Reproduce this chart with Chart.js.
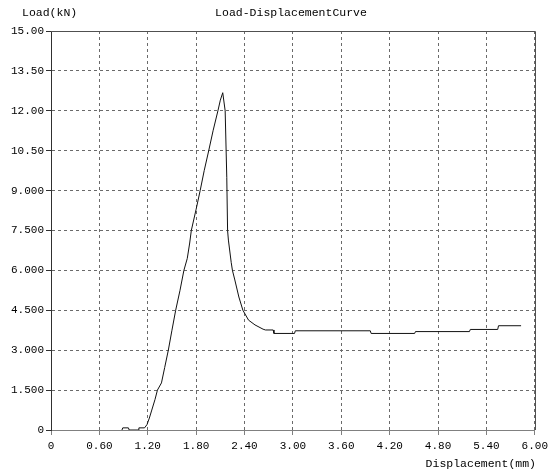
<!DOCTYPE html>
<html>
<head>
<meta charset="utf-8">
<script src="https://cdn.jsdelivr.net/npm/chart.js@4.4.0/dist/chart.umd.min.js"></script>
<style>
html,body{margin:0;padding:0;background:#fff;}
</style>
</head>
<body>
<canvas id="myChart" width="552" height="473"></canvas>
<script>
const displacement = [0.88,0.89,0.96,0.97,1.08,1.09,1.16,1.19,1.22,1.25,1.29,1.32,1.37,1.41,1.455,1.50,1.546,1.60,1.648,1.69,1.72,1.74,1.80,1.85,1.90,1.956,2.01,2.07,2.10,2.13,2.16,2.18,2.19,2.20,2.235,2.25,2.28,2.33,2.38,2.45,2.53,2.63,2.66,2.755,2.765,3.02,3.03,3.96,3.97,4.51,4.52,5.19,5.20,5.54,5.55,5.83];
const load = [0.00,0.08,0.08,0.00,0.00,0.08,0.08,0.20,0.45,0.75,1.15,1.50,1.77,2.35,3.00,3.75,4.50,5.25,6.00,6.45,7.03,7.50,8.30,9.00,9.75,10.50,11.25,12.00,12.40,12.68,12.00,9.50,7.50,7.14,6.30,6.00,5.64,5.00,4.50,4.13,3.95,3.79,3.76,3.76,3.63,3.63,3.73,3.73,3.63,3.63,3.70,3.70,3.78,3.78,3.92,3.92];

// ticks
const xTickValues = [0,0.6,1.2,1.8,2.4,3.0,3.6,4.2,4.8,5.4,6.0];
const xTickLabels = ['0','0.60','1.20','1.80','2.40','3.00','3.60','4.20','4.80','5.40','6.00'];
const yTickValues = [0,1.5,3,4.5,6,7.5,9,10.5,12,13.5,15];
const yTickLabels = ['0','1.500','3.000','4.500','6.000','7.500','9.000','10.50','12.00','13.50','15.00'];

const chartTitle = 'Load-DisplacementCurve';
const yTitle = 'Load(kN)';
const xTitle = 'Displacement(mm)';

const fontFam = '"Liberation Mono", "DejaVu Sans Mono", monospace';

// titles + frame top/right
const textesPlugin = {
  id: 'textes',
  afterDraw(chart) {
    const ctx = chart.ctx;
    const a = chart.chartArea;
    ctx.save();
    ctx.strokeStyle = '#505050';
    ctx.lineWidth = 1;
    ctx.beginPath();
    ctx.moveTo(a.left, Math.round(a.top) + 0.5);
    ctx.lineTo(Math.round(a.right) + 0.5, Math.round(a.top) + 0.5);
    ctx.lineTo(Math.round(a.right) + 0.5, a.bottom);
    ctx.stroke();

    ctx.fillStyle = '#000';
    ctx.font = '11.5px ' + fontFam;
    ctx.textBaseline = 'middle';
    ctx.textAlign = 'left';
    ctx.fillText(yTitle, 22, 13);
    ctx.textAlign = 'center';
    ctx.fillText(chartTitle, 291, 13);
    ctx.textAlign = 'right';
    ctx.fillText(xTitle, 536, 464);
    ctx.restore();
  }
};

const data = {
  datasets: [{
    label: 'Load',
    data: displacement.map((d, i) => ({x: d, y: load[i]})),
    showLine: true,
    borderColor: '#111',
    borderWidth: 1,
    pointRadius: 0,
    tension: 0,
    fill: false
  }]
};

const config = {
  type: 'scatter',
  data: data,
  options: {
    responsive: false,
    animation: false,
    layout: {padding: {top: 31, right: 13, left: 0, bottom: 0}},
    plugins: {
      legend: {display: false},
      tooltip: {enabled: false},
      title: {display: false}
    },
    scales: {
      x: {
        type: 'linear',
        min: 0,
        max: 6,
        afterBuildTicks: scale => { scale.ticks = xTickValues.map(v => ({value: v})); },
        afterFit: scale => { scale.height = 43; },
        ticks: {
          autoSkip: false,
          maxRotation: 0,
          padding: 4,
          color: '#000',
          font: {family: fontFam, size: 11},
          callback: (v, i) => xTickLabels[i]
        },
        grid: {color: '#6a6a6a', tickLength: 5, tickColor: '#808080', tickBorderDash: []},
        border: {color: '#808080', dash: [3, 3]}
      },
      y: {
        type: 'linear',
        min: 0,
        max: 15,
        afterBuildTicks: scale => { scale.ticks = yTickValues.map(v => ({value: v})); },
        afterFit: scale => { scale.width = 51; },
        ticks: {
          autoSkip: false,
          padding: 2,
          color: '#000',
          font: {family: fontFam, size: 11},
          callback: (v, i) => yTickLabels[i]
        },
        grid: {color: '#6a6a6a', tickLength: 5, tickColor: '#303030', tickBorderDash: []},
        border: {color: '#303030', dash: [3, 3]}
      }
    }
  },
  plugins: [textesPlugin]
};

const myChart = new Chart(document.getElementById('myChart'), config);
</script>
</body>
</html>
